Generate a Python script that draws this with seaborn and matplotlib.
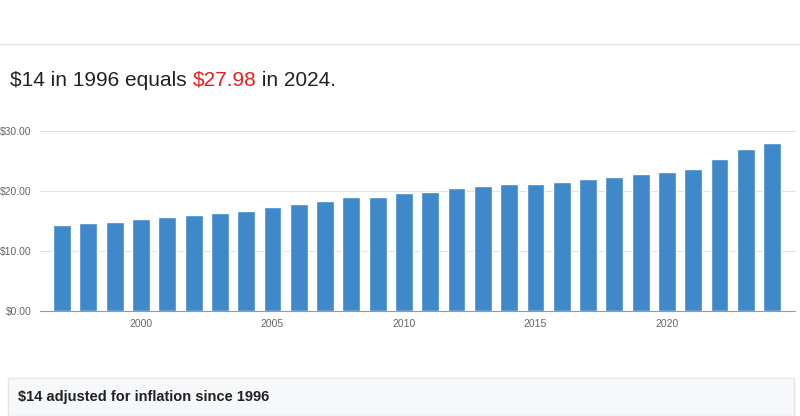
import matplotlib
matplotlib.use('Agg')
import matplotlib.pyplot as plt
import seaborn as sns
import pandas as pd
from matplotlib.patches import Rectangle
from matplotlib.lines import Line2D

years = list(range(1997, 2025))
values = [14.32, 14.60, 14.82, 15.30, 15.75, 16.00, 16.38, 16.75, 17.30, 17.85,
          18.35, 19.05, 19.00, 19.60, 19.90, 20.45, 20.80, 21.15, 21.25, 21.50,
          21.95, 22.40, 22.80, 23.10, 23.70, 25.30, 26.95, 27.98]
yticks = [0, 10, 20, 30]
xticks = [2000, 2005, 2010, 2015, 2020]

sns.set_theme(style="white")
plt.rcParams['font.family'] = ['Liberation Sans', 'DejaVu Sans']

fig = plt.figure(figsize=(8, 4.16), dpi=100)
W, H = 800, 416

# separator line at top and footer box
fig.add_artist(Line2D([0, 1], [1 - 44 / H, 1 - 44 / H], color='#e6e6e6', lw=1))
fig.add_artist(Rectangle((8 / W, 0), 786 / W, 38 / H, facecolor='#f7f8fa',
                         edgecolor='#e3e5e8', lw=1, transform=fig.transFigure))
fig.text(18 / W, 19 / H, '$14 adjusted for inflation since 1996', fontsize=10.5,
         fontweight='bold', color='#222222', va='center')

# title with coloured value
fig.canvas.draw()
r = fig.canvas.get_renderer()
x = 10 / W
for txt, col in [('$14 in 1996 equals ', '#222222'), ('$27.98', '#ee1c1c'), (' in 2024.', '#222222')]:
    t = fig.text(x, 1 - 80 / H, txt, fontsize=15, color=col, va='center')
    x += t.get_window_extent(r).width / W

ax = fig.add_axes([40 / W, 1 - 311 / H, 755 / W, 180 / H])
df = pd.DataFrame({'year': years, 'value': values})
sns.barplot(data=df, x='year', y='value', native_scale=True, width=0.68,
            color='#3f88c9', saturation=1, ax=ax)
ax.set_xlim(1996.16, 2024.87)
ax.set_ylim(0, 30)
ax.set_yticks(yticks)
ax.set_yticklabels([f'${v:.2f}' for v in yticks])
ax.set_xticks(xticks)
ax.set_xticklabels([str(v) for v in xticks])
ax.tick_params(axis='both', labelsize=7.5, colors='#666666', length=0, pad=6)
ax.set_xlabel('')
ax.set_ylabel('')
for v in yticks[1:]:
    ax.axhline(v, color='#e3e3e3', lw=0.8, zorder=0, clip_on=False)
ax.set_axisbelow(True)
for s in ['top', 'right', 'left']:
    ax.spines[s].set_visible(False)
ax.spines['bottom'].set_color('#999999')
ax.spines['bottom'].set_linewidth(0.8)

plt.savefig('out.png', dpi=100)
